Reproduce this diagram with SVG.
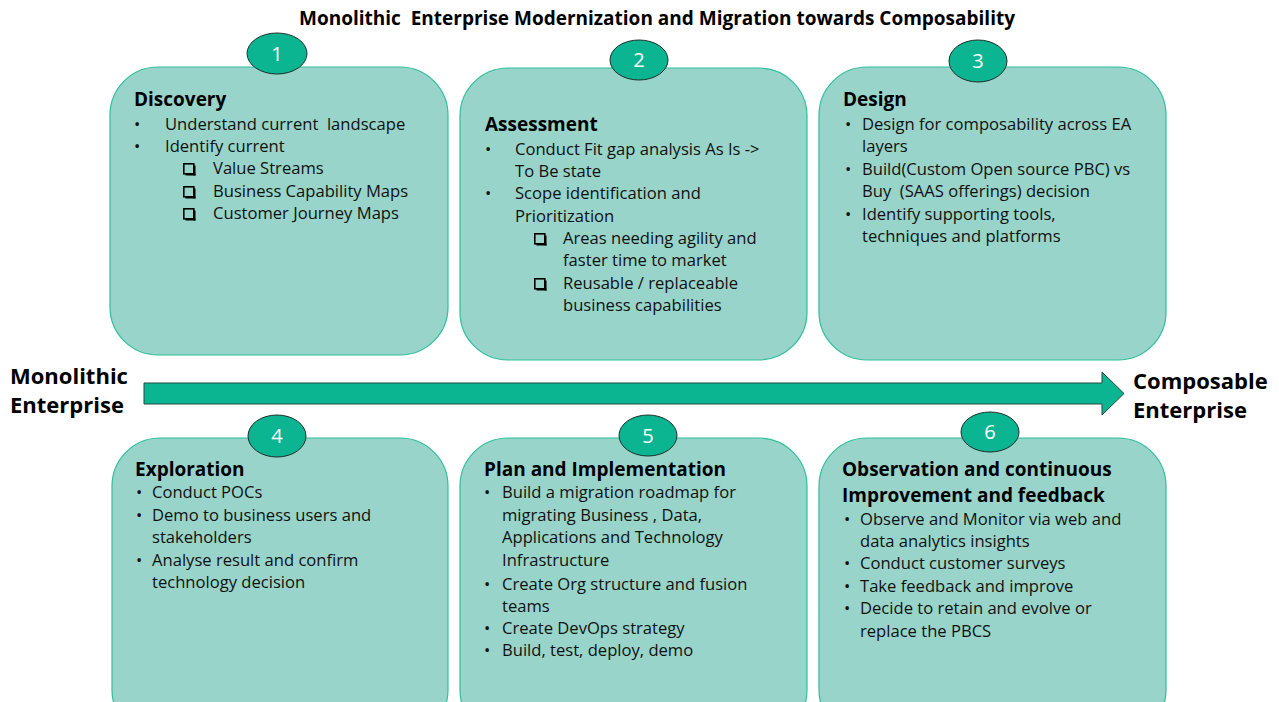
<svg xmlns="http://www.w3.org/2000/svg" width="1279" height="702" viewBox="0 0 1279 702">
<defs>
<style>
.box{fill:#98d4c9;stroke:#2dbf9b;stroke-width:1.2}
.num{fill:#0cb592;stroke:#1c2f29;stroke-width:1}
.numt{font-family:"Open Sans","Noto Sans",sans-serif;font-size:20px;fill:#ffffff;text-anchor:middle}
.h{font-family:"Open Sans","Noto Sans",sans-serif;font-size:19px;font-weight:bold;fill:#000}
.t{font-family:"Open Sans","Noto Sans",sans-serif;font-size:16.6px;fill:#111}
.title{font-family:"Open Sans","Noto Sans",sans-serif;font-size:19px;font-weight:bold;fill:#000}
.side{font-family:"Open Sans","Noto Sans",sans-serif;font-size:22px;font-weight:bold;fill:#000}
.cb{fill:none;stroke:#000;stroke-width:1.6}
.cbs{fill:#000}
</style>
<g id="chk">
<rect x="0.8" y="0.8" width="10" height="10" class="cb"/>
<rect x="2.5" y="10.5" width="10" height="2" class="cbs"/>
<rect x="10.5" y="2.5" width="2" height="10" class="cbs"/>
</g>
</defs>
<rect width="1279" height="702" fill="#ffffff"/>
<text class="title" x="657" y="25" text-anchor="middle" xml:space="preserve">Monolithic  Enterprise Modernization and Migration towards Composability</text>

<g id="connectors">
<path d="M144,383 H1102 V372 L1124,393.5 L1102,415 V404 H144 Z" fill="#0cb592" stroke="#1f4a3c" stroke-width="1"/>
</g>

<g id="label-monolithic">
<text class="side" x="10" y="384">Monolithic</text>
<text class="side" x="10" y="413">Enterprise</text>
</g>
<g id="label-composable">
<text class="side" x="1133" y="389">Composable</text>
<text class="side" x="1133" y="418">Enterprise</text>
</g>

<g id="node1">
<rect class="box" x="110" y="67" width="338" height="288" rx="48" ry="48"/>
<ellipse class="num" cx="277" cy="53.5" rx="30" ry="20.5"/>
<text class="numt" x="277" y="61">1</text>
<text class="h" x="134" y="106">Discovery</text>
<text class="t" x="134" y="130">•</text><text class="t" x="165" y="130" xml:space="preserve">Understand current  landscape</text>
<text class="t" x="134" y="152">•</text><text class="t" x="165" y="152">Identify current</text>
<use href="#chk" x="183" y="163"/><text class="t" x="213" y="174">Value Streams</text>
<use href="#chk" x="183" y="186"/><text class="t" x="213" y="197">Business Capability Maps</text>
<use href="#chk" x="183" y="208"/><text class="t" x="213" y="219">Customer Journey Maps</text>
</g>

<g id="node2">
<rect class="box" x="460" y="68" width="347" height="292" rx="48" ry="48"/>
<ellipse class="num" cx="639" cy="60" rx="29" ry="20"/>
<text class="numt" x="639" y="67">2</text>
<text class="h" x="485" y="131">Assessment</text>
<text class="t" x="485" y="155">•</text><text class="t" x="515" y="155">Conduct Fit gap analysis As Is -&gt;</text>
<text class="t" x="515" y="177">To Be state</text>
<text class="t" x="485" y="199">•</text><text class="t" x="515" y="199">Scope identification and</text>
<text class="t" x="515" y="222">Prioritization</text>
<use href="#chk" x="534" y="233"/><text class="t" x="563" y="244">Areas needing agility and</text>
<text class="t" x="563" y="266">faster time to market</text>
<use href="#chk" x="534" y="278"/><text class="t" x="563" y="289">Reusable / replaceable</text>
<text class="t" x="563" y="311">business capabilities</text>
</g>

<g id="node3">
<rect class="box" x="819" y="67" width="347" height="293" rx="48" ry="48"/>
<ellipse class="num" cx="978" cy="61" rx="29" ry="21"/>
<text class="numt" x="978" y="68">3</text>
<text class="h" x="843" y="106">Design</text>
<text class="t" x="845" y="130">•</text><text class="t" x="862" y="130">Design for composability across EA</text>
<text class="t" x="862" y="152">layers</text>
<text class="t" x="845" y="175">•</text><text class="t" x="862" y="175">Build(Custom Open source PBC) vs</text>
<text class="t" x="862" y="197" xml:space="preserve">Buy  (SAAS offerings) decision</text>
<text class="t" x="845" y="220">•</text><text class="t" x="862" y="220">Identify supporting tools,</text>
<text class="t" x="862" y="242">techniques and platforms</text>
</g>

<g id="node4">
<rect class="box" x="112" y="438" width="336" height="300" rx="48" ry="48"/>
<ellipse class="num" cx="277" cy="436" rx="29" ry="21"/>
<text class="numt" x="277" y="443">4</text>
<text class="h" x="135" y="476">Exploration</text>
<text class="t" x="136" y="498">•</text><text class="t" x="152" y="498">Conduct POCs</text>
<text class="t" x="136" y="521">•</text><text class="t" x="152" y="521">Demo to business users and</text>
<text class="t" x="152" y="543">stakeholders</text>
<text class="t" x="136" y="566">•</text><text class="t" x="152" y="566">Analyse result and confirm</text>
<text class="t" x="152" y="588">technology decision</text>
</g>

<g id="node5">
<rect class="box" x="460" y="438" width="347" height="300" rx="48" ry="48"/>
<ellipse class="num" cx="648" cy="435.5" rx="29" ry="20.5"/>
<text class="numt" x="648" y="442.5">5</text>
<text class="h" x="484" y="476">Plan and Implementation</text>
<text class="t" x="484" y="498">•</text><text class="t" x="502" y="498">Build a migration roadmap for</text>
<text class="t" x="502" y="521">migrating Business , Data,</text>
<text class="t" x="502" y="543">Applications and Technology</text>
<text class="t" x="502" y="566">Infrastructure</text>
<text class="t" x="484" y="590">•</text><text class="t" x="502" y="590">Create Org structure and fusion</text>
<text class="t" x="502" y="612">teams</text>
<text class="t" x="484" y="634">•</text><text class="t" x="502" y="634">Create DevOps strategy</text>
<text class="t" x="484" y="656">•</text><text class="t" x="502" y="656">Build, test, deploy, demo</text>
</g>

<g id="node6">
<rect class="box" x="819" y="438" width="347" height="300" rx="48" ry="48"/>
<ellipse class="num" cx="990" cy="432" rx="29" ry="20"/>
<text class="numt" x="990" y="439">6</text>
<text class="h" x="842" y="476">Observation and continuous</text>
<text class="h" x="842" y="502">Improvement and feedback</text>
<text class="t" x="844" y="525">•</text><text class="t" x="860" y="525">Observe and Monitor via web and</text>
<text class="t" x="860" y="547">data analytics insights</text>
<text class="t" x="844" y="569">•</text><text class="t" x="860" y="569">Conduct customer surveys</text>
<text class="t" x="844" y="592">•</text><text class="t" x="860" y="592">Take feedback and improve</text>
<text class="t" x="844" y="614">•</text><text class="t" x="860" y="614">Decide to retain and evolve or</text>
<text class="t" x="860" y="637">replace the PBCS</text>
</g>
</svg>
